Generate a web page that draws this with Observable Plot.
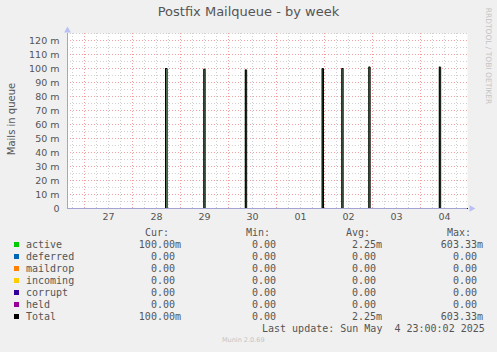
<!DOCTYPE html>
<html><head><meta charset="utf-8">
<script src="https://cdn.jsdelivr.net/npm/d3@7"></script>
<script src="https://cdn.jsdelivr.net/npm/@observablehq/plot@0.6"></script>
<style>
body{margin:0;background:#f0f0f0;}
#wrap{position:relative;width:497px;height:352px;overflow:hidden;background:#f0f0f0;font-family:"DejaVu Sans";color:#555;}
#chart{position:absolute;left:0;top:0;}
.abs{position:absolute;white-space:pre;}
.mono{font-family:"DejaVu Sans Mono";font-size:10px;line-height:12px;}
</style></head><body><div id="wrap"><div id="chart"></div></div>
<script>
// ---- data ----
const xDomain = ["2025-04-26T15:30Z", "2025-05-04T23:30Z"];
const spikeStart = ["2025-04-28T16:30Z", "2025-04-29T11:40Z", "2025-04-30T08:25Z", "2025-05-01T22:50Z", "2025-05-02T08:40Z", "2025-05-02T22:10Z", "2025-05-04T09:25Z"];
const spikeEnd   = ["2025-04-28T17:20Z", "2025-04-29T12:20Z", "2025-04-30T09:05Z", "2025-05-01T23:30Z", "2025-05-02T09:20Z", "2025-05-02T22:50Z", "2025-05-04T10:05Z"];
const spikePeak  = [0.100, 0.0995, 0.099, 0.100, 0.100, 0.101, 0.101];
const dayTicks = ["2025-04-27T12:00Z", "2025-04-28T12:00Z", "2025-04-29T12:00Z", "2025-04-30T12:00Z", "2025-05-01T12:00Z", "2025-05-02T12:00Z", "2025-05-03T12:00Z", "2025-05-04T12:00Z"];
const dayLabels = ["27", "28", "29", "30", "01", "02", "03", "04"];
const yTicks = [0, 0.01, 0.02, 0.03, 0.04, 0.05, 0.06, 0.07, 0.08, 0.09, 0.10, 0.11, 0.12];
const yTickLabels = ["0", "10 m", "20 m", "30 m", "40 m", "50 m", "60 m", "70 m", "80 m", "90 m", "100 m", "110 m", "120 m"];
const yMax = 0.125;

const seriesNames  = ["active", "deferred", "maildrop", "incoming", "corrupt", "held", "Total"];
const seriesColors = ["#00CC00", "#0066B3", "#FF8000", "#FFCC00", "#330099", "#990099", "#000000"];
const curValues = ["100.00m", "0.00 ", "0.00 ", "0.00 ", "0.00 ", "0.00 ", "100.00m"];
const minValues = ["0.00 ", "0.00 ", "0.00 ", "0.00 ", "0.00 ", "0.00 ", "0.00 "];
const avgValues = ["2.25m", "0.00 ", "0.00 ", "0.00 ", "0.00 ", "0.00 ", "2.25m"];
const maxValues = ["603.33m", "0.00 ", "0.00 ", "0.00 ", "0.00 ", "0.00 ", "603.33m"];
const columnHeaders = ["Cur:", "Min:", "Avg:", "Max:"];

// ---- build series table ----
const D = s => new Date(s);
const x0 = D(xDomain[0]), x1 = D(xDomain[1]);
const series = [{t: x0, v: 0}];
spikeStart.forEach((s, i) => {
  series.push({t: D(s), v: 0}, {t: D(s), v: spikePeak[i]}, {t: D(spikeEnd[i]), v: spikePeak[i]}, {t: D(spikeEnd[i]), v: 0});
});
series.push({t: x1, v: 0});

const minorX = d3.utcHour.every(6).range(x0, x1);
const majorX = d3.utcDay.range(x0, x1);
const minorY = d3.range(0, yMax + 1e-9, 0.005);
const majorY = yTicks;

const axisColor = "#a4a4d4";
const chart = Plot.plot({
  width: 497, height: 225,
  marginLeft: 67, marginRight: 30, marginTop: 33, marginBottom: 17,
  style: {background: "transparent", fontFamily: "DejaVu Sans", fontSize: "9.5px", color: "#555", overflow: "visible"},
  x: {type: "utc", domain: [x0, x1]},
  y: {domain: [0, yMax]},
  marks: [
    Plot.frame({fill: "white", stroke: null}),
    Plot.ruleX(minorX, {stroke: "#d0d0d0", strokeDasharray: "1,2"}),
    Plot.ruleY(minorY, {stroke: "#d0d0d0", strokeDasharray: "1,2"}),
    Plot.ruleX(majorX, {stroke: "#f4a0a0", strokeDasharray: "1,2"}),
    Plot.ruleY(majorY, {stroke: "#f4a0a0", strokeDasharray: "1,2"}),
    Plot.areaY(series, {x: "t", y: "v", fill: "#3a7a3a"}),
    Plot.lineY(series, {x: "t", y: "v", stroke: "#000", strokeWidth: 1}),
    Plot.ruleY([0], {stroke: axisColor}),
    Plot.ruleX([x0], {stroke: axisColor, y1: 0, y2: yMax}),
    Plot.dot([x1], {x: d => d, y: () => 0, symbol: "triangle", rotate: 90, r: 2.5, fill: "#b8c0f4", dx: 4}),
    Plot.dot([x0], {x: d => d, y: () => yMax, symbol: "triangle", r: 2.5, fill: "#b8c0f4", dy: -3}),
    Plot.axisY(yTicks, {tickSize: 0, tickPadding: 8, tickFormat: (d, i) => yTickLabels[i], label: null}),
    Plot.axisX(dayTicks.map(D), {tickSize: 0, tickPadding: 5, tickFormat: (d, i) => dayLabels[i], label: null})
  ]
});
document.getElementById("chart").appendChild(chart);

// ---- texts ----
const wrap = document.getElementById("wrap");
function add(html, css, cls = "abs") {
  const el = document.createElement("div");
  el.className = cls;
  el.textContent = html;
  el.style.cssText = css;
  wrap.appendChild(el);
  return el;
}
add("Postfix Mailqueue - by week", "left:0;width:497px;text-align:center;top:5px;font-size:13px;line-height:13px;color:#555;");
add("Mails in queue", "left:12px;top:119px;font-size:10px;line-height:12px;transform:translate(-50%,-50%) rotate(-90deg);color:#555;");
add("RRDTOOL / TOBI OETIKER", "left:488px;top:56px;font-size:7.5px;line-height:9px;transform:translate(-50%,-50%) rotate(90deg);color:#c4c4c4;");

const colRight = [181, 282, 382, 483];
const rowTop0 = 239, rowStep = 12;
columnHeaders.forEach((h, j) => add(h, `right:${497 - (colRight[j] - 12)}px;top:${rowTop0 - rowStep}px;`, "abs mono"));
const cols = [curValues, minValues, avgValues, maxValues];
seriesNames.forEach((name, i) => {
  const top = rowTop0 + i * rowStep;
  const sq = document.createElement("div");
  sq.style.cssText = `position:absolute;left:14px;top:${top + 3}px;width:5px;height:5px;background:${seriesColors[i]};`;
  wrap.appendChild(sq);
  add(name, `left:26px;top:${top}px;`, "abs mono");
  cols.forEach((c, j) => add(c[i], `right:${497 - colRight[j]}px;top:${top}px;`, "abs mono"));
});
add("Last update: Sun May  4 23:00:02 2025", `left:262px;top:${rowTop0 + 7 * rowStep}px;`, "abs mono");
add("Munin 2.0.69", "left:222px;top:336px;font-size:6.5px;line-height:8px;color:#c4c4c4;");
</script></body></html>
